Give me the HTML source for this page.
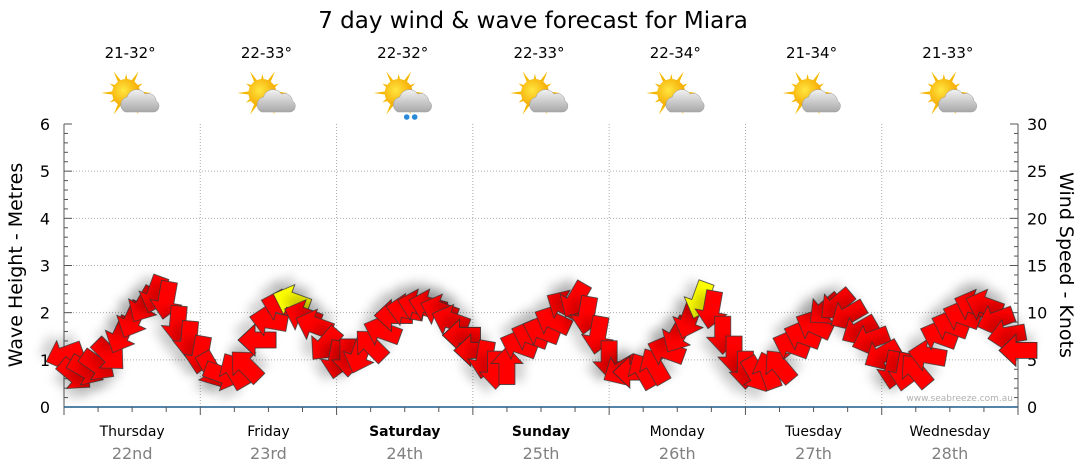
<!DOCTYPE html>
<html><head><meta charset="utf-8"><style>
html,body{margin:0;padding:0;background:#fff;}
svg{display:block;font-family:"DejaVu Sans","Liberation Sans",sans-serif;}
</style></head><body>
<svg id="chart" width="1080" height="475" xmlns="http://www.w3.org/2000/svg">
<defs>
<filter id="sh" x="-80%" y="-80%" width="260%" height="260%"><feDropShadow dx="4" dy="9" stdDeviation="5" flood-color="#000" flood-opacity="0.18"/></filter>
<radialGradient id="sun" cx="0.4" cy="0.4" r="0.6"><stop offset="0" stop-color="#ffe640"/><stop offset="1" stop-color="#f5a800"/></radialGradient>
<linearGradient id="cloud" x1="0" y1="0" x2="0" y2="1"><stop offset="0" stop-color="#f2f2f2"/><stop offset="1" stop-color="#a8a8a8"/></linearGradient>
</defs>
<text x="533" y="28" font-size="23" text-anchor="middle" fill="#000">7 day wind &amp; wave forecast for Miara</text>
<g id="grid"></g><g id="axes"></g><g id="icons"></g><g id="arrows"></g>
<text x="1013" y="401" font-size="9" text-anchor="end" fill="#b0b0b0">www.seabreeze.com.au</text>
<text transform="translate(22,265) rotate(-90)" font-size="19" text-anchor="middle">Wave Height - Metres</text>
<text transform="translate(1060,265) rotate(90)" font-size="19" text-anchor="middle">Wind Speed - Knots</text>
</svg>
<script>
const days = ["Thursday","Friday","Saturday","Sunday","Monday","Tuesday","Wednesday"];
const dates = ["22nd","23rd","24th","25th","26th","27th","28th"];
const boldDays = [false,false,true,true,false,false,false];
const temps = ["21-32°","22-33°","22-32°","22-33°","22-34°","21-34°","21-33°"];
const rainy = [false,false,true,false,false,false,false];
const waveTicks = [0,1,2,3,4,5,6];
const windTicks = [0,5,10,15,20,25,30];
// wind every 2 hours from Thursday 00:00
const windSpeed = [5.5,3.4,3.9,4.4,5.5,7.6,9.2,10.8,11.9,11.3,8.7,7.1,
 5.5,3.9,3.4,3.9,4.4,7.1,9.2,10.8,11.3,9.7,8.7,6.6,
 5.0,5.2,5.5,6.6,8.1,9.7,10.3,10.8,10.8,10.3,9.2,7.6,
 6.0,5.0,3.9,4.4,6.6,7.6,8.1,9.2,10.8,11.3,9.7,7.6,
 5.0,3.9,3.7,3.9,4.4,6.0,7.6,9.2,11.3,10.3,7.6,5.5,
 3.9,3.4,3.9,4.4,6.6,7.6,8.7,10.3,10.8,9.7,8.1,7.1,
 5.5,3.9,3.7,3.9,5.5,7.6,8.7,9.7,10.8,10.8,9.2,7.6,6.0];
// screen direction arrow points to (deg, 0=right, 90=down)
const windDir = [160,40,30,35,45,115,115,120,110,100,95,95,
 100,60,20,-120,-135,180,190,195,200,200,200,130,
 100,90,110,-135,200,180,190,195,195,200,200,180,
 180,100,90,-90,200,200,200,205,210,120,100,100,
 90,150,180,-120,-120,200,120,110,110,100,90,90,
 90,60,-110,-130,200,200,205,140,140,150,150,160,
 150,100,100,-130,190,200,200,200,200,200,160,170,180];
const highlight = [20,56];
const x0=64,x1=1018,yb=407,yt=124;
const hx=t=>x0+t*(x1-x0)/168;
const yW=m=>yb-m*(yb-yt)/6;
const yK=k=>yb-k*(yb-yt)/30;
const NS="http://www.w3.org/2000/svg";
function mk(tag,attrs,parent){const e=document.createElementNS(NS,tag);for(const k in attrs)e.setAttribute(k,attrs[k]);parent.appendChild(e);return e;}
const grid=document.getElementById('grid'),axes=document.getElementById('axes'),icons=document.getElementById('icons'),arrows=document.getElementById('arrows');
waveTicks.forEach(v=>{if(v>0&&v<6){const l=mk('line',{x1:x0,x2:x1,y1:yW(v),y2:yW(v),stroke:'#aaa','stroke-dasharray':'1,2'},grid);

}
const t=mk('text',{x:50,y:yW(v)+6,'font-size':16,'text-anchor':'end'},axes);t.textContent=v;

});
windTicks.forEach(v=>{const t=mk('text',{x:1027,y:yK(v)+6,'font-size':16},axes);t.textContent=v;

});
for(let i=0;i<=30;i++){const y=yK(i);const L=i%5==0?8:4;
mk('line',{x1:x0,x2:x0+L,y1:y,y2:y,stroke:'#555'},axes);mk('line',{x1:x1,x2:x1-L,y1:y,y2:y,stroke:'#555'},axes);}
mk('line',{x1:x0,x2:x0,y1:yt,y2:yb,stroke:'#555'},axes);mk('line',{x1:x1,x2:x1,y1:yt,y2:yb,stroke:'#555'},axes);
mk('line',{x1:x0,x2:x1,y1:yb,y2:yb,stroke:'#1a5a8a','stroke-width':1.5},axes);
for(let h=0;h<=168;h+=6){mk('line',{x1:hx(h),x2:hx(h),y1:yb,y2:yb+(h%24==0?8:5),stroke:'#555'},axes);}
days.forEach((d,i)=>{
 if(i>0){const l=mk('line',{x1:hx(i*24),x2:hx(i*24),y1:yt,y2:yb,stroke:'#aaa','stroke-dasharray':'1,2'},grid);
 
 }
 const cx=hx(i*24+12);
 const t=mk('text',{x:cx,y:436,'font-size':14,'text-anchor':'middle','font-weight':boldDays[i]?'bold':'normal'},axes);t.textContent=d;
 
 
 const t2=mk('text',{x:cx,y:459,'font-size':16,'text-anchor':'middle',fill:'#808080'},axes);t2.textContent=dates[i];
 
 
 const t3=mk('text',{x:cx-2,y:58,'font-size':15,'text-anchor':'middle'},icons);t3.textContent=temps[i];
 
 
 const g=mk('g',{transform:`translate(${cx},97)`},icons);
 
 
 for(let a=0;a<360;a+=30){const r=a*Math.PI/180;const L=(a%60==0)?25:19;
  mk('polygon',{points:`${-6+Math.cos(r)*L},${-4+Math.sin(r)*L} ${-6+Math.cos(r+0.18)*11},${-4+Math.sin(r+0.18)*11} ${-6+Math.cos(r-0.18)*11},${-4+Math.sin(r-0.18)*11}`,fill:'#f5b800'},g);}
 mk('circle',{cx:-6,cy:-4,r:14,fill:'url(#sun)'},g);
 mk('path',{d:'M-7,15 a8,8 0 0 1 2,-15 a10,10 0 0 1 18,-3 a8,8 0 0 1 11,7 a6,6 0 0 1 -2,11 z',fill:'url(#cloud)',stroke:'#999','stroke-width':0.5},g);
 if(rainy[i]){mk('circle',{cx:2,cy:20,r:2.8,fill:'#2a8ad8'},g);mk('circle',{cx:10,cy:20,r:2.8,fill:'#2a8ad8'},g);}
});
windSpeed.forEach((s,i)=>{
 const x=hx(i*2),y=yK(s);
 const p=mk('polygon',{points:'19,0 2,-16 2,-8 -19,-8 -19,8 2,8 2,16',fill:highlight.includes(i)?'#ffff00':'#ff0000',stroke:'#333','stroke-width':0.8,filter:'url(#sh)',transform:`translate(${x},${y}) rotate(${windDir[i]})`},arrows);
 
 
});
</script>
</body></html>
